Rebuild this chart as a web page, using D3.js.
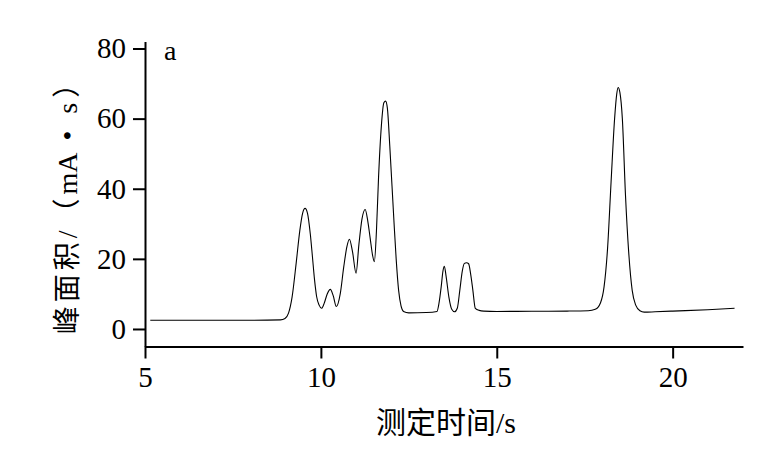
<!DOCTYPE html>
<html>
<head>
<meta charset="utf-8">
<script src="https://cdn.jsdelivr.net/npm/d3@7"></script>
<style>
  html, body { margin: 0; padding: 0; background: #fff; }
  svg { display: block; }
  text { font-family: "Liberation Serif", "Times New Roman", "Noto Sans CJK SC", serif; fill: #000; }
</style>
</head>
<body>
<svg id="chart" width="771" height="468"></svg>
<script>
// --- data ---
const time = [5.15, 6, 7, 8, 8.85, 8.98, 9.08, 9.18, 9.3, 9.4, 9.48, 9.55, 9.62, 9.7, 9.76, 9.82, 9.88, 9.95, 10.02,
  10.1, 10.18, 10.27, 10.35, 10.44, 10.55, 10.65, 10.74, 10.81, 10.9, 11.0, 11.08, 11.17, 11.26, 11.33, 11.4, 11.47, 11.52,
  11.58, 11.64, 11.72, 11.79, 11.84, 11.89, 11.96, 12.07, 12.14, 12.21, 12.28, 12.35, 12.5, 13.0, 13.3, 13.36, 13.42,
  13.47, 13.51, 13.56, 13.64, 13.72, 13.8, 13.88, 13.95, 14.02, 14.08, 14.14, 14.2, 14.26, 14.32, 14.39, 14.5, 14.63,
  15, 16, 17, 17.6, 17.8, 17.95, 18.05, 18.15, 18.25, 18.35, 18.41, 18.45, 18.5, 18.57, 18.66, 18.75, 18.85, 18.95, 19.07,
  19.19, 19.5, 20, 21, 21.76];
const signal = [2.5, 2.5, 2.5, 2.5, 2.6, 3.0, 4.5, 9, 19, 28, 33, 34.4, 33, 27, 20.6, 14, 9.2, 6.8, 5.9,
  7.5, 10, 11.3, 9.5, 6.4, 10, 17.7, 23.5, 25.6, 22, 15.9, 24, 31.5, 34.1, 31, 26, 21, 19.2,
  28, 43.4, 58, 64.5, 65, 63, 52, 32, 20, 11, 6.5, 5.0, 4.6, 4.7, 5.0, 7.5, 12,
  16.5, 17.9, 15, 9, 5.6, 4.9, 6.0, 11.1, 16.5, 18.7, 18.9, 18.6, 15.5, 11.1, 5.9, 5.3, 5.1,
  5.0, 5.05, 5.1, 5.2, 5.6, 7.5, 12, 23, 42, 60, 67, 68.9, 67.5, 60, 38, 22, 11, 6.8, 5.2,
  4.8, 4.9, 5.1, 5.5, 5.9];
const xTicks = [5, 10, 15, 20];
const yTicks = [0, 20, 40, 60, 80];
const xTitle = "测定时间/s";
const yTitleParts = ["峰面积/（", "mA", " • s）"];
const panelLabel = "a";

// --- drawing ---
const svg = d3.select("#chart");
const x = d3.scaleLinear().domain([5, 22]).range([145, 743]);
const y = d3.scaleLinear().domain([-5, 82]).range([346.5, 41.5]);

const xAxis = svg.append("g")
  .attr("transform", `translate(0,${y(-5)})`)
  .call(d3.axisBottom(x).tickValues(xTicks).tickSize(12).tickSizeOuter(0).tickPadding(8).tickFormat(d3.format("d")));
const yAxis = svg.append("g")
  .attr("transform", `translate(${x(5)},0)`)
  .call(d3.axisLeft(y).tickValues(yTicks).tickSize(12).tickSizeOuter(0).tickPadding(7).tickFormat(d3.format("d")));

[xAxis, yAxis].forEach(g => {
  g.selectAll("path.domain").attr("stroke", "#000").attr("stroke-width", 2);
  g.selectAll(".tick line").attr("stroke", "#000").attr("stroke-width", 2);
  g.selectAll(".tick text").attr("font-size", 29).attr("font-family", "Liberation Serif, serif").attr("fill", "#000");
});

const pts = time.map((t, i) => [t, signal[i]]);
const line = d3.line().x(d => x(d[0])).y(d => y(d[1])).curve(d3.curveMonotoneX);
svg.append("path")
  .attr("d", line(pts))
  .attr("fill", "none")
  .attr("stroke", "#000")
  .attr("stroke-width", 1.1);

svg.append("text")
  .attr("x", 164).attr("y", 60)
  .attr("font-size", 28)
  .text(panelLabel);

svg.append("text")
  .attr("x", 446).attr("y", 433)
  .attr("text-anchor", "middle")
  .attr("font-size", 30)
  .text(xTitle);

const yt = svg.append("text")
  .attr("transform", "translate(77,199.5) rotate(-90)")
  .attr("text-anchor", "middle")
  .attr("font-size", 28);
const spacing = [4, 0, 5];
yTitleParts.forEach((s, i) => yt.append("tspan").attr("letter-spacing", spacing[i]).text(s));
</script>
</body>
</html>
